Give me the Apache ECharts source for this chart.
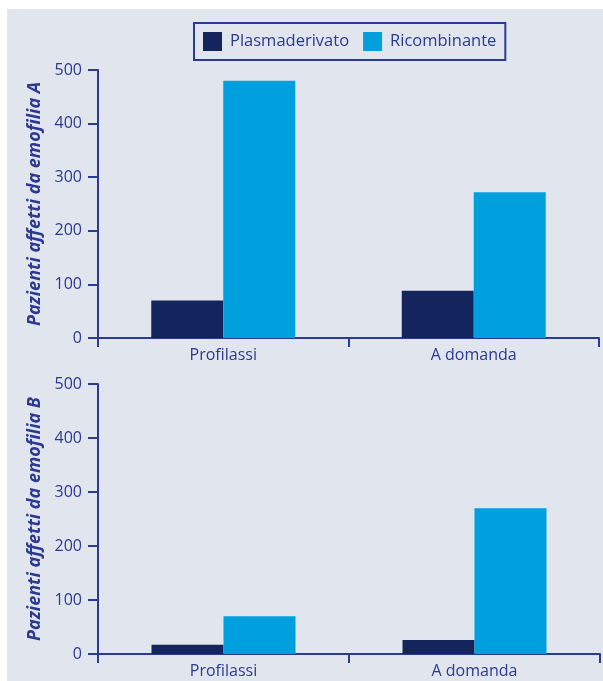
<!DOCTYPE html>
<html>
<head>
<meta charset="utf-8">
<script src="https://cdn.jsdelivr.net/npm/echarts@6/dist/echarts.min.js"></script>
<style>
  html, body { margin: 0; padding: 0; background: #ffffff; }
  #chart {
    width: 603px; height: 681px;
    background: linear-gradient(#e1e5ee, #e1e5ee) 7px 9px / 596px 672px no-repeat, #ffffff;
  }
</style>
</head>
<body>
<div id="chart"></div>
<script>
// Patients by treatment regime and factor type
const categories = ['Profilassi', 'A domanda'];
const seriesNames = ['Plasmaderivato', 'Ricombinante'];
const haemophiliaA_plasma = [70, 88];
const haemophiliaA_recomb = [480, 272];
const haemophiliaB_plasma = [17, 26];
const haemophiliaB_recomb = [70, 270];
const yTicks = { min: 0, max: 500, interval: 100 };
const axisTitles = ['Pazienti affetti da emofilia A', 'Pazienti affetti da emofilia B'];

const textColor = '#2b3990';
const axisColor = '#2a3b96';
const darkBar = '#14245c';
const lightBar = '#00a0df';
const font = 'Open Sans';

function xAxis(gridIndex) {
  return {
    type: 'category', gridIndex, data: categories,
    axisLine: { lineStyle: { color: axisColor, width: 2 } },
    axisTick: { show: true, length: 9, lineStyle: { color: axisColor, width: 2 } },
    axisLabel: { color: textColor, fontFamily: font, fontSize: 16, margin: 9 }
  };
}
function yAxis(gridIndex) {
  return {
    type: 'value', gridIndex, min: yTicks.min, max: yTicks.max, interval: yTicks.interval,
    name: axisTitles[gridIndex], nameLocation: 'middle', nameGap: 50,
    nameTextStyle: { color: textColor, fontFamily: font, fontSize: 18, fontStyle: 'italic', fontWeight: 'bold' },
    axisLine: { show: true, lineStyle: { color: axisColor, width: 2 } },
    axisTick: { show: true, length: 10, lineStyle: { color: axisColor, width: 2 } },
    axisLabel: { color: textColor, fontFamily: font, fontSize: 16, margin: 16 },
    splitLine: { show: false }
  };
}
function bars(name, data, color, idx) {
  return {
    type: 'bar', name, data, xAxisIndex: idx, yAxisIndex: idx,
    barWidth: 72, barGap: '0%',
    itemStyle: { color },
    emphasis: { disabled: true }
  };
}

const chart = echarts.init(document.getElementById('chart'), null, { renderer: 'canvas' });
chart.setOption({
  backgroundColor: 'transparent',
  animation: false,
  legend: {
    data: seriesNames,
    left: 194, top: 23,
    padding: [9, 9, 9, 9],
    borderColor: axisColor, borderWidth: 2,
    itemWidth: 19, itemHeight: 19, itemGap: 14,
    icon: 'rect',
    textStyle: { color: textColor, fontFamily: font, fontSize: 16.5, padding: [0, 0, 0, 3] }
  },
  grid: [
    { left: 98, top: 70, width: 501, height: 268 },
    { left: 98, top: 384, width: 502, height: 270 }
  ],
  xAxis: [xAxis(0), xAxis(1)],
  yAxis: [yAxis(0), yAxis(1)],
  series: [
    bars(seriesNames[0], haemophiliaA_plasma, darkBar, 0),
    bars(seriesNames[1], haemophiliaA_recomb, lightBar, 0),
    bars(seriesNames[0], haemophiliaB_plasma, darkBar, 1),
    bars(seriesNames[1], haemophiliaB_recomb, lightBar, 1)
  ]
});
</script>
</body>
</html>
